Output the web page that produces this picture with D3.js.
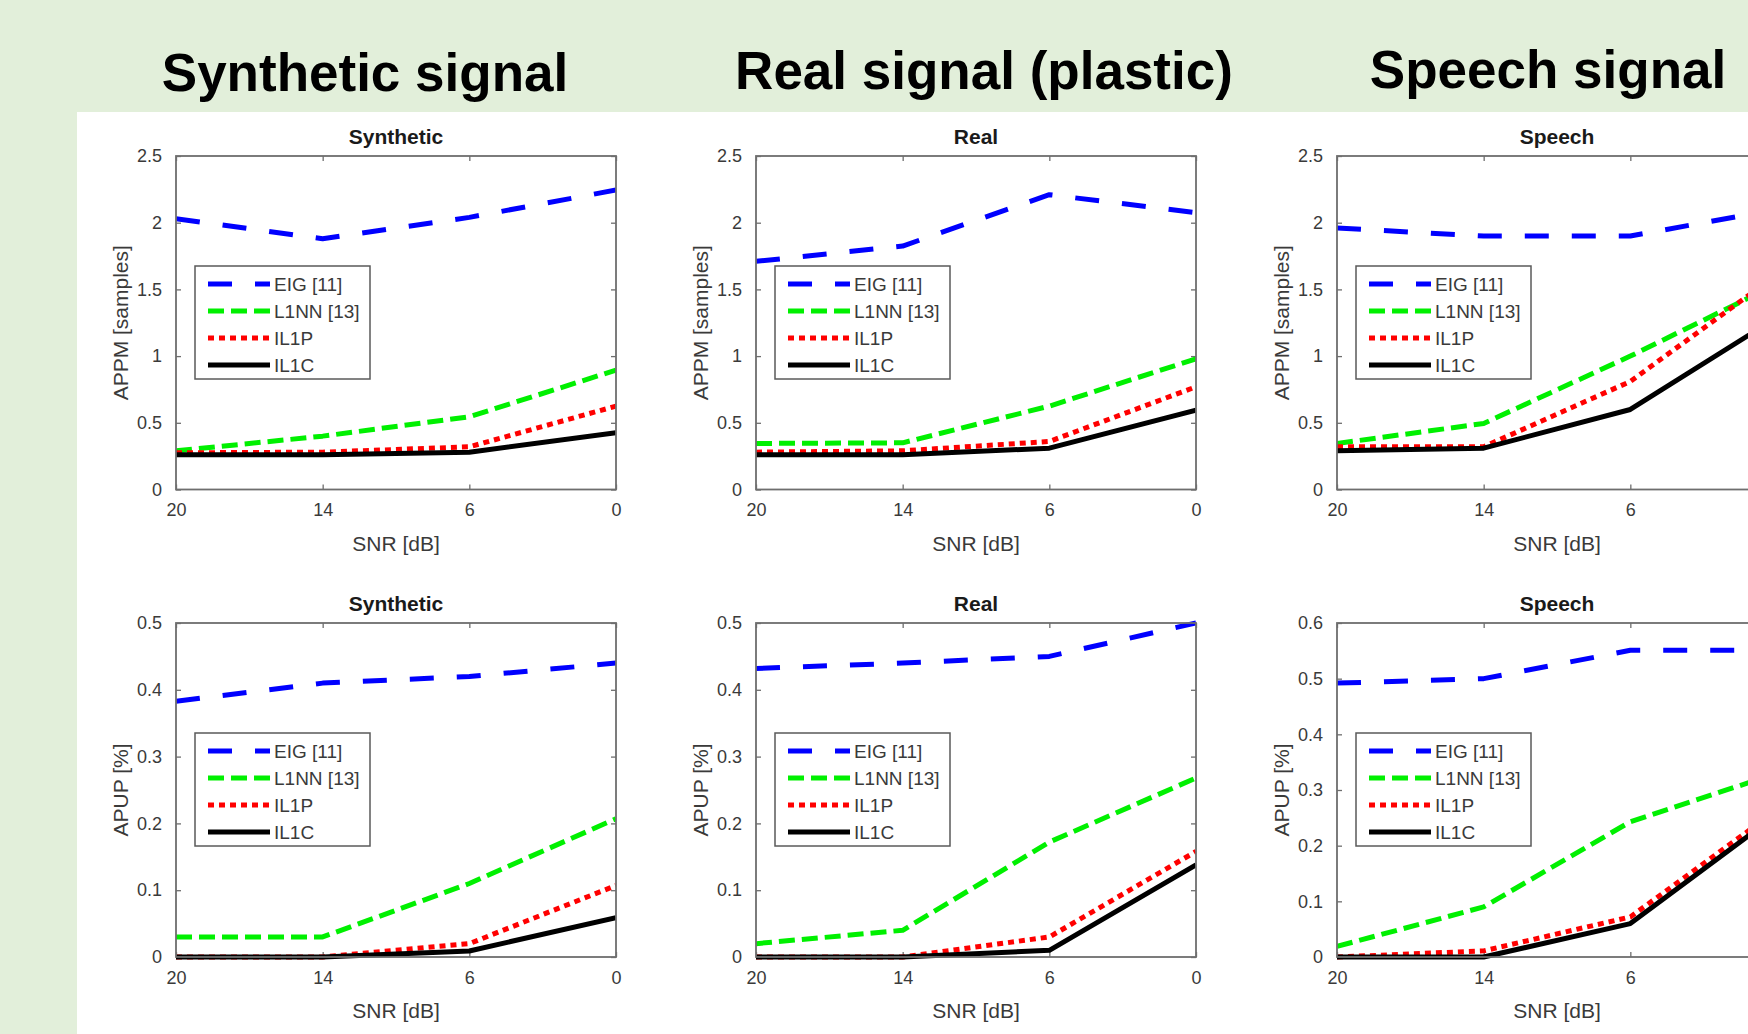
<!DOCTYPE html>
<html>
<head>
<meta charset="utf-8">
<script src="https://cdn.jsdelivr.net/npm/d3@7"></script>
<style>
  html, body { margin: 0; padding: 0; background: #E2EFDA; }
  svg { display: block; }
  text { font-family: "Liberation Sans", Arial, sans-serif; }
</style>
</head>
<body>
<svg id="chart" width="1748" height="1034"></svg>
<script>
// ---------------- DATA ----------------
const snrLabels = ["20", "14", "6", "0"];
const methods = ["EIG [11]", "L1NN [13]", "IL1P", "IL1C"];
const headers = ["Synthetic signal", "Real signal (plastic)", "Speech signal"];
const panelTitles = ["Synthetic", "Real", "Speech"];

const appmTicks = [0, 0.5, 1, 1.5, 2, 2.5];
const apupTicks = [0, 0.1, 0.2, 0.3, 0.4, 0.5];
const apupSpeechTicks = [0, 0.1, 0.2, 0.3, 0.4, 0.5, 0.6];

// APPM [samples]  (rows: EIG, L1NN, IL1P, IL1C ; columns: SNR 20,14,6,0)
const appmSynthetic = [
  [2.03, 1.88, 2.04, 2.245],
  [0.29, 0.40, 0.545, 0.895],
  [0.275, 0.28, 0.32, 0.625],
  [0.26, 0.26, 0.28, 0.425]
];
const appmReal = [
  [1.71, 1.825, 2.21, 2.075],
  [0.345, 0.35, 0.625, 0.98],
  [0.28, 0.29, 0.36, 0.77],
  [0.26, 0.26, 0.31, 0.595]
];
const appmSpeech = [
  [1.96, 1.90, 1.90, 2.10],
  [0.345, 0.495, 1.0, 1.54],
  [0.32, 0.32, 0.81, 1.61],
  [0.29, 0.31, 0.60, 1.29]
];
// APUP [%]
const apupSynthetic = [
  [0.383, 0.41, 0.42, 0.44],
  [0.03, 0.03, 0.11, 0.207],
  [0, 0, 0.02, 0.107],
  [0, 0, 0.009, 0.059]
];
const apupReal = [
  [0.432, 0.44, 0.45, 0.50],
  [0.02, 0.04, 0.172, 0.268],
  [0, 0, 0.03, 0.158],
  [0, 0, 0.01, 0.138]
];
const apupSpeech = [
  [0.492, 0.50, 0.551, 0.551],
  [0.019, 0.09, 0.243, 0.33],
  [0, 0.011, 0.072, 0.264],
  [0, 0, 0.06, 0.256]
];

// ---------------- STYLE ----------------
const seriesStyle = [
  { color: "#0000FF", dash: "24,23" },
  { color: "#00F000", dash: "16,7" },
  { color: "#FF0000", dash: "6,5" },
  { color: "#000000", dash: null }
];

const W = 1748, H = 1034;
const svg = d3.select("#chart");
svg.append("rect").attr("x", 0).attr("y", 0).attr("width", W).attr("height", H).attr("fill", "#E2EFDA");
svg.append("rect").attr("x", 77).attr("y", 112).attr("width", W - 77).attr("height", H - 112).attr("fill", "#FFFFFF");

// headers
const headerX = [365, 984, 1548];
const headerY = [91, 89, 88];
headers.forEach((h, i) => {
  svg.append("text")
    .attr("x", headerX[i]).attr("y", headerY[i])
    .attr("text-anchor", "middle")
    .attr("font-size", 53).attr("font-weight", "bold")
    .attr("fill", "#000")
    .text(h);
});

const colLeft = [176, 756, 1337];
const plotW = 440;
const rows = [
  { top: 156, bottom: 489.5, label: "APPM [samples]", ticks: [appmTicks, appmTicks, appmTicks], data: [appmSynthetic, appmReal, appmSpeech] },
  { top: 623, bottom: 957, label: "APUP [%]", ticks: [apupTicks, apupTicks, apupSpeechTicks], data: [apupSynthetic, apupReal, apupSpeech] }
];

const axisColor = "#6e6e6e";
const textColor = "#3a3a3a";

rows.forEach(row => {
  colLeft.forEach((left, c) => {
    const ticks = row.ticks[c];
    const data = row.data[c];
    const x = d3.scalePoint().domain(snrLabels).range([left, left + plotW]);
    const y = d3.scaleLinear().domain([ticks[0], ticks[ticks.length - 1]]).range([row.bottom, row.top]);
    const g = svg.append("g");

    const clipId = "clip-" + row.label.replace(/\W/g, "") + c;
    svg.append("clipPath").attr("id", clipId)
      .append("rect").attr("x", left).attr("y", row.top - 4).attr("width", plotW).attr("height", row.bottom - row.top + 8);

    // title
    g.append("text")
      .attr("x", left + plotW / 2).attr("y", row.top - 12)
      .attr("text-anchor", "middle")
      .attr("font-size", 21).attr("font-weight", "bold")
      .attr("fill", "#1a1a1a")
      .text(panelTitles[c]);

    // axes via d3
    const xAxis = d3.axisBottom(x).tickSize(-5).tickPadding(14);
    const gx = g.append("g").attr("transform", `translate(0,${row.bottom})`).call(xAxis);
    const xTop = d3.axisTop(x).tickSize(-5).tickFormat("");
    const gxt = g.append("g").attr("transform", `translate(0,${row.top})`).call(xTop);
    const yAxis = d3.axisLeft(y).tickValues(ticks).tickSize(-5).tickPadding(14).tickFormat(d => String(d));
    const gy = g.append("g").attr("transform", `translate(${left},0)`).call(yAxis);
    const yRight = d3.axisRight(y).tickValues(ticks).tickSize(-5).tickFormat("");
    const gyr = g.append("g").attr("transform", `translate(${left + plotW},0)`).call(yRight);

    [gx, gxt, gy, gyr].forEach(a => {
      a.select(".domain").remove();
      a.selectAll(".tick line").attr("stroke", axisColor).attr("stroke-width", 1.3);
      a.selectAll(".tick text").attr("fill", textColor).attr("font-size", 18)
        .attr("font-family", "Liberation Sans, Arial, sans-serif");
    });
    gx.selectAll(".tick text").attr("dy", "0.71em");
    // drop tick labels that fall outside the picture (as in the cropped reference)
    gx.selectAll(".tick").filter(d => x(d) > W - 8).select("text").remove();

    // lines
    const line = d3.line().x((d, i) => x(snrLabels[i])).y(d => y(d));
    const lg = g.append("g").attr("clip-path", `url(#${clipId})`);
    data.forEach((vals, s) => {
      const st = seriesStyle[s];
      const p = lg.append("path")
        .attr("d", line(vals))
        .attr("fill", "none")
        .attr("stroke", st.color)
        .attr("stroke-width", 5)
        .attr("stroke-linejoin", "round");
      if (st.dash) p.attr("stroke-dasharray", st.dash);
    });

    // frame
    g.append("rect")
      .attr("x", left).attr("y", row.top)
      .attr("width", plotW).attr("height", row.bottom - row.top)
      .attr("fill", "none").attr("stroke", axisColor).attr("stroke-width", 1.8);

    // axis labels
    g.append("text")
      .attr("x", left + plotW / 2).attr("y", row.bottom + 61)
      .attr("text-anchor", "middle")
      .attr("font-size", 21).attr("fill", textColor)
      .text("SNR [dB]");
    g.append("text")
      .attr("transform", `translate(${left - 55},${(row.top + row.bottom) / 2}) rotate(-90)`)
      .attr("text-anchor", "middle")
      .attr("dy", "0.35em")
      .attr("font-size", 21).attr("fill", textColor)
      .text(row.label);

    // legend
    const bx = left + 19, by = row.top + 110;
    const lgd = g.append("g");
    lgd.append("rect")
      .attr("x", bx).attr("y", by).attr("width", 175).attr("height", 113)
      .attr("fill", "#fff").attr("stroke", "#5a5a5a").attr("stroke-width", 1.5);
    methods.forEach((m, s) => {
      const yy = by + 18 + s * 27;
      const st = seriesStyle[s];
      const l = lgd.append("line")
        .attr("x1", bx + 13).attr("x2", bx + 75)
        .attr("y1", yy).attr("y2", yy)
        .attr("stroke", st.color).attr("stroke-width", 5);
      if (st.dash) l.attr("stroke-dasharray", st.dash);
      lgd.append("text")
        .attr("x", bx + 79).attr("y", yy)
        .attr("dy", "0.35em")
        .attr("font-size", 19).attr("fill", textColor)
        .text(m);
    });
  });
});
</script>
</body>
</html>
